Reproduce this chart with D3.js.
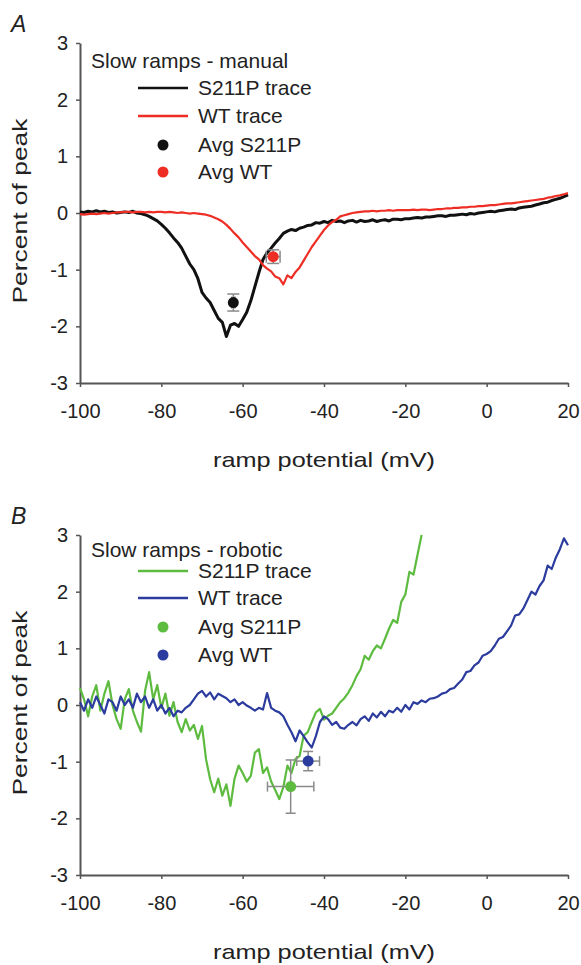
<!DOCTYPE html>
<html>
<head>
<meta charset="utf-8">
<script src="https://cdn.jsdelivr.net/npm/d3@7"></script>
<style>
  body { margin: 0; background: #fff; }
  svg { font-family: "Liberation Sans", Arial, sans-serif; }
</style>
</head>
<body>
<svg id="chart" width="581" height="965"></svg>
<script>

// ramp potential grid (mV), shared by every trace
var rampMv = [-100,-99,-98,-97,-96,-95,-94,-93,-92,-91,
              -90,-89,-88,-87,-86,-85,-84,-83,-82,-81,
              -80,-79,-78,-77,-76,-75,-74,-73,-72,-71,
              -70,-69,-68,-67,-66,-65,-64,-63,-62,-61,
              -60,-59,-58,-57,-56,-55,-54,-53,-52,-51,
              -50,-49,-48,-47,-46,-45,-44,-43,-42,-41,
              -40,-39,-38,-37,-36,-35,-34,-33,-32,-31,
              -30,-29,-28,-27,-26,-25,-24,-23,-22,-21,
              -20,-19,-18,-17,-16,-15,-14,-13,-12,-11,
              -10,-9,-8,-7,-6,-5,-4,-3,-2,-1,
              0,1,2,3,4,5,6,7,8,9,
              10,11,12,13,14,15,16,17,18,19,
              20]

// panel A - manual
var s211pManual = [0.02,0.01,0.03,0.02,0.04,0.02,0.03,0.01,0.02,0.00,
                   0.01,0.02,0.01,0.03,0.00,-0.01,-0.03,-0.06,-0.10,-0.14,
                   -0.20,-0.27,-0.35,-0.44,-0.52,-0.62,-0.76,-0.90,-1.00,-1.16,
                   -1.40,-1.50,-1.58,-1.72,-1.86,-1.93,-2.18,-1.98,-1.95,-2.00,
                   -1.88,-1.75,-1.55,-1.30,-1.05,-0.82,-0.70,-0.62,-0.53,-0.45,
                   -0.36,-0.32,-0.29,-0.31,-0.27,-0.25,-0.22,-0.21,-0.17,-0.18,
                   -0.15,-0.17,-0.13,-0.15,-0.14,-0.17,-0.14,-0.13,-0.16,-0.13,
                   -0.15,-0.14,-0.12,-0.15,-0.13,-0.12,-0.14,-0.11,-0.11,-0.12,
                   -0.10,-0.10,-0.09,-0.08,-0.09,-0.07,-0.07,-0.06,-0.05,-0.05,
                   -0.06,-0.04,-0.04,-0.03,-0.02,-0.03,-0.01,-0.02,0.00,0.01,
                   0.02,0.03,0.02,0.04,0.05,0.06,0.07,0.06,0.09,0.10,
                   0.11,0.12,0.14,0.16,0.18,0.19,0.22,0.24,0.26,0.29,
                   0.32]
var wtManual = [-0.02,-0.03,-0.02,-0.01,-0.02,-0.01,0.00,-0.01,0.00,0.01,
                0.01,0.02,0.02,0.01,0.02,0.02,0.01,0.02,0.01,0.02,
                0.02,0.01,0.02,0.01,0.00,0.01,0.00,-0.01,0.00,-0.01,
                -0.02,-0.03,-0.05,-0.08,-0.11,-0.15,-0.21,-0.28,-0.36,-0.43,
                -0.52,-0.60,-0.68,-0.76,-0.82,-0.92,-0.98,-1.03,-1.12,-1.15,
                -1.26,-1.10,-1.15,-1.04,-0.96,-0.84,-0.72,-0.60,-0.50,-0.40,
                -0.30,-0.22,-0.16,-0.12,-0.06,-0.04,-0.02,0.00,0.01,0.02,
                0.03,0.03,0.04,0.03,0.04,0.04,0.05,0.04,0.05,0.05,
                0.05,0.05,0.06,0.05,0.06,0.06,0.05,0.06,0.07,0.07,
                0.08,0.08,0.09,0.09,0.10,0.10,0.11,0.11,0.12,0.12,
                0.13,0.14,0.14,0.15,0.16,0.17,0.17,0.18,0.19,0.20,
                0.21,0.22,0.23,0.24,0.25,0.27,0.28,0.30,0.31,0.33,
                0.35]
// averages with their errors
var avgManual = [
  {name: "S211P", mv: -62.3, val: -1.58, mvErr: 0.4, valErr: 0.15},
  {name: "WT",    mv: -52.5, val: -0.77, mvErr: 1.7, valErr: 0.12}
]

// panel B - robotic (S211P trace stops at -16 mV)
var s211pRobotic = [0.30,0.10,-0.20,0.15,0.35,-0.10,0.20,0.42,0.00,-0.25,
                    -0.42,0.10,0.28,-0.10,-0.30,-0.47,0.25,0.58,0.10,0.35,
                    -0.05,0.20,-0.19,0.05,-0.30,-0.48,-0.25,-0.45,-0.35,-0.60,
                    -0.37,-0.96,-1.31,-1.54,-1.30,-1.60,-1.40,-1.78,-1.30,-1.07,
                    -1.20,-1.35,-1.25,-0.84,-0.78,-1.20,-1.10,-1.35,-1.50,-1.66,
                    -1.45,-1.07,-1.20,-0.95,-0.90,-0.54,-0.48,-0.30,-0.13,-0.07,
                    -0.26,-0.19,-0.15,-0.05,0.05,0.12,0.22,0.35,0.51,0.63,
                    0.87,0.80,0.95,1.05,1.00,1.17,1.35,1.50,1.45,1.82,
                    1.95,2.35,2.30,2.65,3.00]
var wtRobotic = [0.05,-0.10,0.10,-0.05,0.15,0.00,-0.15,0.10,0.05,-0.10,
                 0.15,0.00,0.10,-0.05,0.20,0.05,0.15,-0.05,0.10,-0.10,
                 0.00,-0.15,-0.05,-0.20,-0.10,-0.13,-0.05,0.00,0.10,0.20,
                 0.25,0.15,0.22,0.10,0.20,0.16,0.12,0.05,0.10,0.00,
                 0.05,-0.01,-0.05,-0.10,-0.05,-0.08,0.21,-0.05,-0.10,-0.13,
                 -0.20,-0.35,-0.48,-0.64,-0.45,-0.55,-0.66,-0.75,-0.55,-0.30,
                 -0.20,-0.25,-0.35,-0.30,-0.40,-0.42,-0.35,-0.30,-0.36,-0.25,
                 -0.20,-0.28,-0.15,-0.22,-0.12,-0.20,-0.10,-0.13,-0.05,-0.12,
                 0.00,-0.08,0.05,0.02,0.08,0.05,0.11,0.12,0.15,0.20,
                 0.22,0.28,0.30,0.38,0.45,0.58,0.60,0.70,0.75,0.87,
                 0.90,0.95,1.05,1.17,1.20,1.30,1.40,1.58,1.60,1.70,
                 1.85,2.00,1.95,2.10,2.20,2.46,2.40,2.60,2.75,2.94,
                 2.82]
var avgRobotic = [
  {name: "S211P", mv: -48.2, val: -1.44, mvErr: 5.7, valErr: 0.47},
  {name: "WT",    mv: -43.9, val: -0.99, mvErr: 2.8, valErr: 0.17}
]

var xTicks = [-100, -80, -60, -40, -20, 0, 20]
var yTicks = [-3, -2, -1, 0, 1, 2, 3]

var svg = d3.select("#chart")

function drawPanel(opts) {
    var xScale = d3.scaleLinear().domain([-100, 20]).range([80, 568])
    var yScale = d3.scaleLinear().domain([-3, 3]).range([opts.bottom, opts.top])

    var g = svg.append("g")

    // axes
    var yAxis = d3.axisLeft(yScale).tickValues(yTicks).tickFormat(d => String(d))
                  .tickSize(4).tickSizeOuter(0).tickPadding(8)
    var yG = g.append("g").attr("transform", "translate(80,0)").call(yAxis)
    var xAxis = d3.axisBottom(xScale).tickValues(xTicks).tickFormat(d => String(d))
                  .tickSize(4).tickSizeOuter(0).tickPadding(17)
    var xG = g.append("g").attr("transform", "translate(0," + opts.bottom + ")").call(xAxis)
    ;[yG, xG].forEach(function(ax) {
        ax.select(".domain").attr("stroke", "#555").attr("stroke-width", 2)
        ax.selectAll(".tick line").attr("stroke", "#555").attr("stroke-width", 1.5)
        ax.selectAll(".tick text").attr("fill", "#222").style("font-size", "20px")
            .style("font-family", "'Liberation Sans', Arial, sans-serif")
    })

    // axis titles
    g.append("text")
        .attr("transform", "translate(27," + (yScale(0) - 2) + ") rotate(-90)")
        .attr("text-anchor", "middle")
        .attr("textLength", 185).attr("lengthAdjust", "spacingAndGlyphs")
        .style("font-size", "21px").attr("fill", "#222")
        .text("Percent of peak")
    g.append("text")
        .attr("x", 324).attr("y", opts.bottom + 84)
        .attr("text-anchor", "middle")
        .attr("textLength", 222).attr("lengthAdjust", "spacingAndGlyphs")
        .style("font-size", "21px").attr("fill", "#222")
        .text("ramp potential (mV)")

    // panel letter
    g.append("text").attr("x", 11).attr("y", opts.letterY)
        .style("font-size", "23px").style("font-style", "italic").attr("fill", "#222")
        .text(opts.letter)

    // traces
    var line = d3.line().x(d => xScale(d[0])).y(d => yScale(d[1]))
    opts.traces.forEach(function(t) {
        var pts = t.values.map((v, i) => [rampMv[i], v])
        g.append("path").datum(pts)
            .attr("fill", "none")
            .attr("stroke", t.color)
            .attr("stroke-width", t.width)
            .attr("stroke-linejoin", "round")
            .attr("d", line)
    })

    // averages with error bars
    opts.avgs.forEach(function(a, i) {
        var cx = xScale(a.mv), cy = yScale(a.val)
        var x0 = xScale(a.mv - a.mvErr), x1 = xScale(a.mv + a.mvErr)
        var y0 = yScale(a.val - a.valErr), y1 = yScale(a.val + a.valErr)
        var cap = opts.cap
        var eb = g.append("g").attr("stroke", "#8a8a8a").attr("stroke-width", 1.5)
        eb.append("line").attr("x1", x0).attr("x2", x1).attr("y1", cy).attr("y2", cy)
        eb.append("line").attr("x1", cx).attr("x2", cx).attr("y1", y0).attr("y2", y1)
        eb.append("line").attr("x1", x0).attr("x2", x0).attr("y1", cy - cap).attr("y2", cy + cap)
        eb.append("line").attr("x1", x1).attr("x2", x1).attr("y1", cy - cap).attr("y2", cy + cap)
        eb.append("line").attr("x1", cx - cap).attr("x2", cx + cap).attr("y1", y0).attr("y2", y0)
        eb.append("line").attr("x1", cx - cap).attr("x2", cx + cap).attr("y1", y1).attr("y2", y1)
        g.append("circle").attr("cx", cx).attr("cy", cy).attr("r", 5.5)
            .attr("fill", opts.traces[i].color)
    })

    // legend
    var lg = opts.legend
    g.append("text").attr("x", 91).attr("y", lg.titleY)
        .style("font-size", "21px").attr("fill", "#222").text(lg.title)
    var labels = ["S211P trace", "WT trace", "Avg S211P", "Avg WT"]
    labels.forEach(function(lab, i) {
        var ry = lg.rows[i]
        var color = opts.traces[i % 2].color
        if (i < 2) {
            g.append("line").attr("x1", 138).attr("x2", 188).attr("y1", ry).attr("y2", ry)
                .attr("stroke", color).attr("stroke-width", 2.5)
        } else {
            g.append("circle").attr("cx", 163).attr("cy", ry).attr("r", 5.5).attr("fill", color)
        }
        g.append("text").attr("x", 198).attr("y", ry + 7)
            .style("font-size", "21px").attr("fill", "#222").text(lab)
    })
}

drawPanel({
    letter: "A", letterY: 32, top: 43, bottom: 383, cap: 6,
    traces: [{values: s211pManual, color: "#111111", width: 3},
             {values: wtManual, color: "#ee2e24", width: 2.2}],
    avgs: avgManual,
    legend: {title: "Slow ramps - manual", titleY: 68, rows: [88, 116, 145, 172]}
})

drawPanel({
    letter: "B", letterY: 524, top: 535, bottom: 875, cap: 5,
    traces: [{values: s211pRobotic, color: "#5dbb3f", width: 2.2},
             {values: wtRobotic, color: "#2c3c9e", width: 2.2}],
    avgs: avgRobotic,
    legend: {title: "Slow ramps - robotic", titleY: 557, rows: [571, 598, 627, 655]}
})

</script>
</body>
</html>
